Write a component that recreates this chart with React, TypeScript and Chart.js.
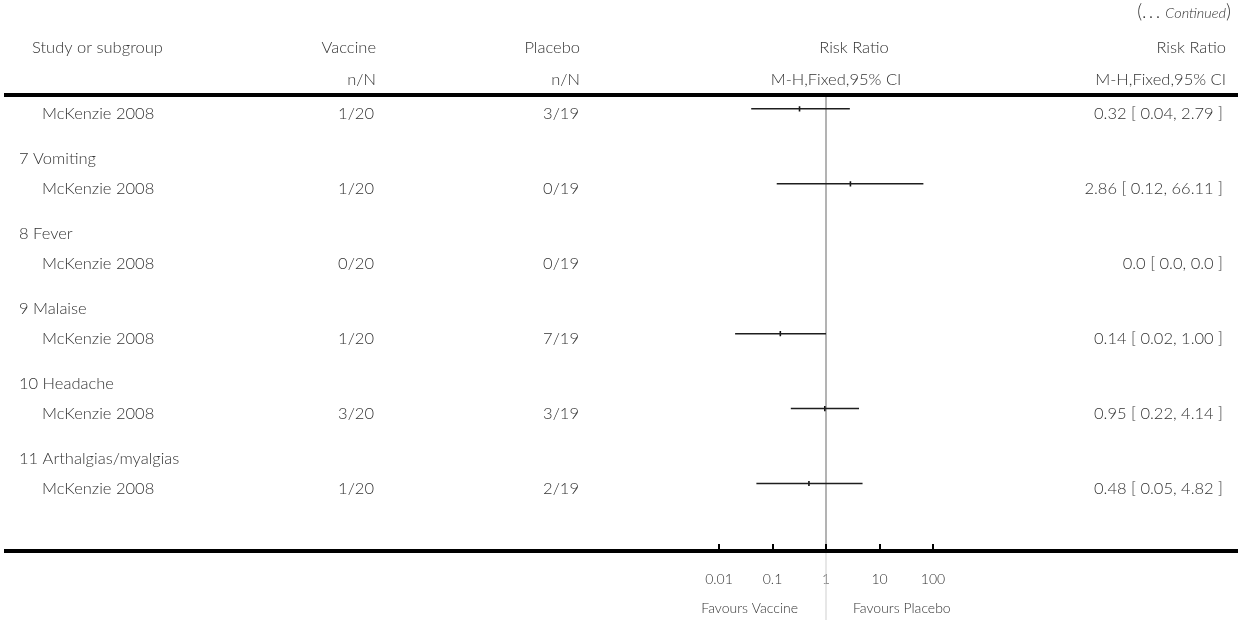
import { useEffect, useRef } from "react";
import { Chart, registerables } from "chart.js";

Chart.register(...registerables);

// Forest plot rows: one outcome subgroup per row group
const outcomes = ["", "7 Vomiting", "8 Fever", "9 Malaise", "10 Headache", "11 Arthalgias/myalgias"];
const studies = ["McKenzie 2008", "McKenzie 2008", "McKenzie 2008", "McKenzie 2008", "McKenzie 2008", "McKenzie 2008"];
const vaccineEvents = ["1/20", "1/20", "0/20", "1/20", "3/20", "1/20"];
const placeboEvents = ["3/19", "0/19", "0/19", "7/19", "3/19", "2/19"];
const riskRatio: (number | null)[] = [0.32, 2.86, null, 0.14, 0.95, 0.48];
const ciLower: (number | null)[] = [0.04, 0.12, null, 0.02, 0.22, 0.05];
const ciUpper: (number | null)[] = [2.79, 66.11, null, 1.0, 4.14, 4.82];
const axisTicks = [0.01, 0.1, 1, 10, 100];
const axisTickLabels = ["0.01", "0.1", "1", "10", "100"];

const W = 1248;
const H = 620;
const FONT_FAMILY = '"Lato", "Open Sans", sans-serif';
const WEIGHT = "300";
const TEXT = "#333333";
const SIZE = 16.5;

function fmt(v: number | null, digits: number): string {
  return v === null ? "0.0" : v.toFixed(digits);
}

function effectLabel(i: number): string {
  return `${fmt(riskRatio[i], 2)} [ ${fmt(ciLower[i], 2)}, ${fmt(ciUpper[i], 2)} ]`;
}

const tablePlugin = {
  id: "forestTable",
  beforeDatasetsDraw(chart: any) {
    const { ctx, scales } = chart;
    const x1 = scales.x.getPixelForValue(1);
    ctx.save();
    // line of no effect
    ctx.strokeStyle = "#9a9a9a";
    ctx.lineWidth = 1.5;
    ctx.beginPath();
    ctx.moveTo(x1, 97);
    ctx.lineTo(x1, 549);
    ctx.stroke();
    ctx.strokeStyle = "#cfcfcf";
    ctx.lineWidth = 1;
    ctx.beginPath();
    ctx.moveTo(x1, 553);
    ctx.lineTo(x1, H);
    ctx.stroke();
    ctx.restore();
  },
  afterDraw(chart: any) {
    const { ctx, scales } = chart;
    const x = scales.x;
    const y = scales.y;
    const put = (s: string, px: number, py: number, align: CanvasTextAlign, size = SIZE, style = "") => {
      ctx.font = `${style} ${WEIGHT} ${size}px ${FONT_FAMILY}`;
      ctx.textAlign = align;
      ctx.textBaseline = "alphabetic";
      ctx.fillStyle = TEXT;
      ctx.fillText(s, px, py);
    };
    ctx.save();

    // continuation note
    ctx.font = `${WEIGHT} 19px ${FONT_FAMILY}`;
    const closeW = ctx.measureText(")").width;
    ctx.font = `italic ${WEIGHT} 14.5px ${FONT_FAMILY}`;
    const contW = ctx.measureText("Continued").width;
    put(")", 1231, 18, "right", 19);
    put("Continued", 1231 - closeW, 18, "right", 14.5, "italic");
    put("(.\u2009.\u2009. ", 1231 - closeW - contW, 18, "right", 19);

    // column headers
    put("Study or subgroup", 32, 53, "left");
    put("Vaccine", 376, 53, "right");
    put("n/N", 376, 85, "right");
    put("Placebo", 580, 53, "right");
    put("n/N", 580, 85, "right");
    put("Risk Ratio", 854, 53, "center");
    put("M-H,Fixed,95% CI", 836, 85, "center");
    put("Risk Ratio", 1226, 53, "right");
    put("M-H,Fixed,95% CI", 1226, 85, "right");

    // heavy rules
    ctx.fillStyle = "#000";
    ctx.fillRect(4, 93, 1234, 4);
    ctx.fillRect(4, 549, 1234, 4);

    // rows
    for (let i = 0; i < studies.length; i++) {
      const base = y.getPixelForValue(i) + 10.5;
      if (outcomes[i]) put(outcomes[i], 19, base - 30, "left");
      put(studies[i], 42, base, "left");
      put(vaccineEvents[i], 374, base, "right");
      put(placeboEvents[i], 579, base, "right");
      put(effectLabel(i), 1223, base, "right");
    }

    // axis tick marks
    ctx.fillStyle = "#000";
    for (const t of axisTicks) {
      const px = x.getPixelForValue(t);
      ctx.fillRect(Math.round(px) - 1, 544, 2, 5);
    }

    const x1 = x.getPixelForValue(1);
    put("Favours Vaccine", x1 - 28, 613, "right", 14);
    put("Favours Placebo", x1 + 27, 613, "left", 14);
    ctx.restore();
  },
};

export default function App() {
  const ref = useRef<HTMLCanvasElement | null>(null);

  useEffect(() => {
    if (!ref.current) return;
    const datasets: any[] = [];
    const points: { x: number; y: number }[] = [];
    for (let i = 0; i < studies.length; i++) {
      const rr = riskRatio[i];
      const lo = ciLower[i];
      const hi = ciUpper[i];
      if (rr === null || lo === null || hi === null) continue;
      datasets.push({
        type: "line",
        data: [
          { x: lo, y: i },
          { x: hi, y: i },
        ],
        borderColor: "#1e1e1e",
        borderWidth: 1.5,
        pointRadius: 0,
        fill: false,
      });
      points.push({ x: rr, y: i });
    }
    datasets.push({
      type: "scatter",
      data: points,
      pointStyle: "line",
      rotation: 90,
      pointRadius: 2.6,
      borderWidth: 1.6,
      borderColor: "#111",
      backgroundColor: "#111",
    });

    const chart = new Chart(ref.current, {
      type: "scatter",
      data: { datasets },
      options: {
        animation: false,
        responsive: false,
        devicePixelRatio: 1,
        events: [],
        layout: { padding: { left: 719, right: 315, top: 0, bottom: 33 } },
        plugins: { legend: { display: false }, tooltip: { enabled: false } },
        scales: {
          x: {
            type: "logarithmic",
            min: 0.01,
            max: 100,
            afterBuildTicks: (scale: any) => {
              scale.ticks = axisTicks.map((v) => ({ value: v }));
            },
            afterFit: (scale: any) => {
              scale.height = 36;
            },
            ticks: {
              autoSkip: false,
              maxRotation: 0,
              padding: 20,
              color: TEXT,
              font: { family: FONT_FAMILY, size: 14, weight: WEIGHT },
              callback: (v: any) => {
                const k = axisTicks.indexOf(Number(v));
                return k >= 0 ? axisTickLabels[k] : "";
              },
            },
            grid: { display: false, drawTicks: false },
            border: { display: false },
          },
          y: {
            type: "linear",
            display: false,
            reverse: true,
            min: -1.378,
            max: 5.901,
          },
        },
      },
      plugins: [tablePlugin],
    });
    return () => chart.destroy();
  }, []);

  return (
    <div style={{ position: "fixed", left: 0, top: 0, width: W, height: H, background: "#fff" }}>
      <canvas ref={ref} width={W} height={H} style={{ display: "block" }} />
    </div>
  );
}
